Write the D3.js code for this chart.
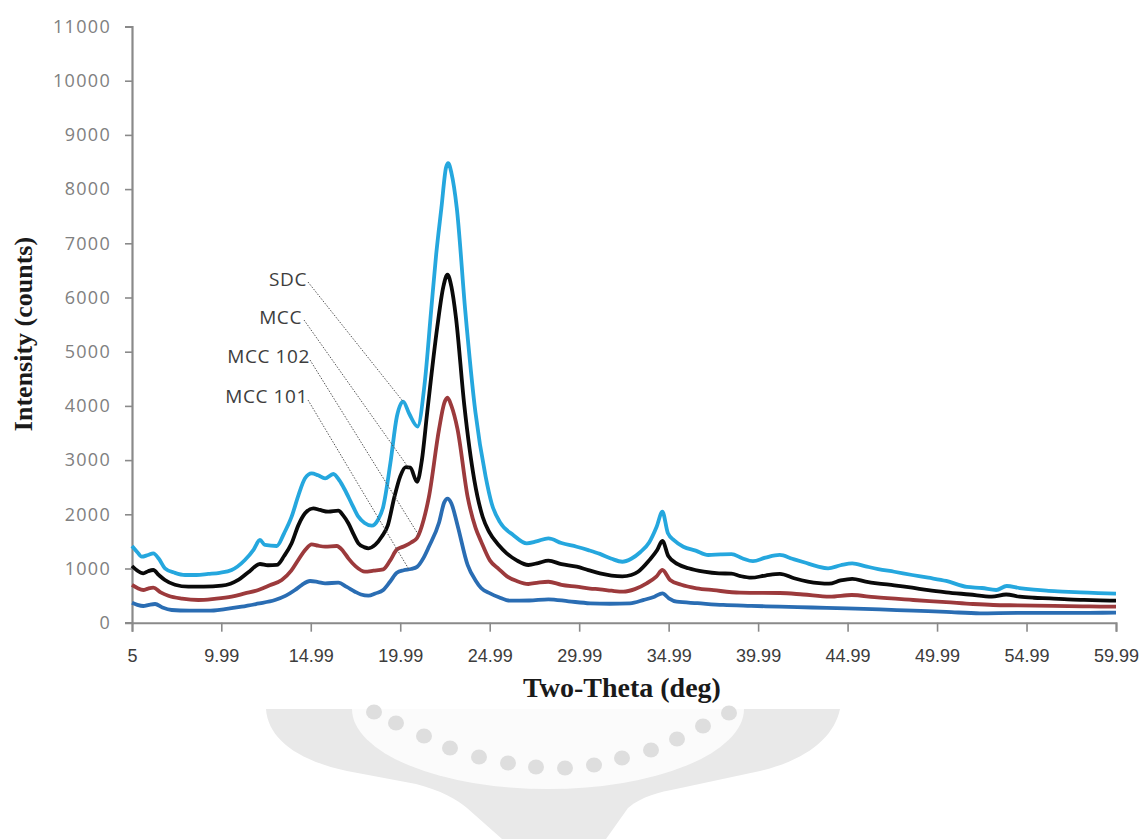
<!DOCTYPE html>
<html>
<head>
<meta charset="utf-8">
<script src="https://cdn.jsdelivr.net/npm/d3@7"></script>
<style>
  html, body { margin: 0; padding: 0; background: #fff; }
  svg { display: block; }
</style>
</head>
<body>
<svg id="chart" width="1143" height="839"></svg>
<script>
// X-ray diffraction patterns, intensity vs two-theta (deg)
const xTicks = [5, 9.99, 14.99, 19.99, 24.99, 29.99, 34.99, 39.99, 44.99, 49.99, 54.99, 59.99];
const yTicks = [0, 1000, 2000, 3000, 4000, 5000, 6000, 7000, 8000, 9000, 10000, 11000];

const seriesNames = ["SDC", "MCC", "MCC 102", "MCC 101"];

// [two-theta, counts]
const sdc = [[5.0,1415],[5.3,1300],[5.54,1218],[5.9,1250],[6.19,1280],[6.5,1180],[6.84,1004],[7.4,920],[7.96,880],[8.6,880],[9.26,899],[9.9,920],[10.57,972],[11.31,1157],[11.8,1350],[12.15,1526],[12.43,1434],[13.09,1415],[13.5,1650],[13.92,1956],[14.3,2350],[14.67,2664],[15.04,2756],[15.4,2720],[15.79,2664],[16.25,2744],[16.6,2620],[16.9,2448],[17.3,2180],[17.65,1956],[18.0,1840],[18.4,1790],[18.75,1900],[19.04,2140],[19.44,2945],[19.8,3800],[20.15,4080],[20.5,3850],[20.96,3620],[21.35,4400],[21.72,5769],[22.0,6800],[22.29,7651],[22.55,8400],[22.67,8480],[22.85,8300],[23.15,7651],[23.62,5769],[24.19,3886],[24.76,2700],[25.1,2200],[25.57,1850],[26.3,1620],[27.06,1465],[27.6,1500],[28.27,1557],[29.0,1470],[29.85,1402],[30.5,1340],[31.15,1270],[31.8,1180],[32.4,1125],[32.9,1180],[33.4,1300],[33.9,1480],[34.32,1771],[34.64,2048],[34.95,1649],[35.3,1520],[35.81,1402],[36.5,1330],[37.2,1249],[37.9,1260],[38.5,1265],[39.1,1190],[39.7,1135],[40.4,1200],[41.2,1250],[41.9,1180],[42.6,1110],[43.3,1040],[43.9,1004],[44.6,1060],[45.25,1096],[46.0,1040],[46.7,990],[47.6,940],[48.6,880],[49.5,830],[50.5,770],[51.65,660],[52.5,640],[53.3,603],[53.88,677],[54.6,640],[55.4,610],[56.1,590],[57.0,575],[58.0,560],[59.0,545],[59.99,535]];

const mcc = [[5.0,1046],[5.3,960],[5.63,911],[5.9,950],[6.19,972],[6.5,880],[6.84,788],[7.4,700],[8.15,664],[9.0,665],[10.01,683],[10.5,720],[10.94,788],[11.5,930],[12.15,1083],[12.6,1060],[13.09,1065],[13.5,1230],[13.92,1465],[14.3,1800],[14.67,2018],[15.13,2111],[15.5,2080],[15.97,2048],[16.53,2066],[16.8,1980],[17.09,1834],[17.4,1620],[17.65,1465],[18.0,1390],[18.21,1373],[18.6,1440],[18.95,1587],[19.3,1800],[19.65,2300],[19.99,2700],[20.3,2870],[20.55,2860],[20.93,2600],[21.2,3000],[21.5,3886],[22.06,5454],[22.4,6200],[22.63,6420],[22.85,6200],[23.1,5642],[23.57,4011],[24.13,2631],[24.6,1950],[24.95,1680],[25.5,1430],[25.94,1280],[26.5,1150],[27.15,1065],[27.7,1100],[28.27,1144],[29.0,1080],[29.85,1033],[30.5,970],[31.15,911],[31.8,870],[32.4,855],[32.9,880],[33.28,941],[33.9,1150],[34.35,1341],[34.64,1510],[34.97,1230],[35.5,1080],[36.1,1004],[36.96,941],[37.8,910],[38.5,905],[39.0,860],[39.6,830],[40.4,870],[41.21,900],[42.0,820],[42.77,760],[43.4,730],[43.95,720],[44.6,780],[45.25,810],[46.0,760],[46.63,727],[47.6,690],[48.6,645],[49.5,600],[50.5,561],[51.8,520],[53.05,480],[53.85,520],[54.6,480],[55.4,460],[56.3,450],[57.3,430],[58.2,420],[59.1,412],[59.99,406]];

const mcc102 = [[5.0,696],[5.3,640],[5.63,603],[5.9,630],[6.19,646],[6.6,560],[7.03,498],[7.8,445],[8.71,419],[9.6,440],[10.57,480],[11.3,540],[12.06,603],[12.7,690],[13.37,788],[13.9,960],[14.29,1157],[14.7,1350],[15.04,1446],[15.4,1420],[15.79,1402],[16.44,1415],[16.8,1320],[17.09,1188],[17.5,1040],[18.02,941],[18.5,960],[19.04,985],[19.43,1150],[19.8,1350],[20.18,1406],[20.6,1480],[20.93,1563],[21.3,1900],[21.59,2317],[22.16,3572],[22.45,4050],[22.63,4150],[22.85,4000],[23.19,3572],[23.76,2317],[24.2,1750],[24.51,1500],[25.0,1150],[25.5,990],[25.94,860],[26.5,770],[27.15,714],[27.7,740],[28.27,756],[29.0,700],[29.85,664],[30.6,630],[31.15,616],[31.8,590],[32.46,572],[33.1,620],[33.76,727],[34.3,850],[34.64,972],[35.07,788],[35.7,700],[36.56,635],[37.5,600],[38.98,554],[40.0,550],[41.21,548],[42.5,520],[44.0,480],[45.22,511],[46.5,470],[48.66,419],[50.5,380],[52.0,345],[53.13,327],[54.5,320],[56.5,310],[58.5,300],[59.99,295]];

const mcc101 = [[5.0,369],[5.3,330],[5.63,308],[5.95,330],[6.29,345],[6.7,280],[7.22,234],[8.2,222],[9.26,221],[10.2,250],[11.13,295],[12.0,350],[12.99,419],[13.6,500],[14.11,603],[14.5,700],[14.95,769],[15.4,750],[15.79,727],[16.53,738],[17.0,660],[17.46,572],[17.8,520],[18.21,498],[18.6,540],[19.04,603],[19.43,760],[19.8,920],[20.18,967],[20.6,990],[20.93,1030],[21.3,1200],[21.59,1400],[22.16,1850],[22.45,2220],[22.63,2290],[22.85,2200],[23.19,1800],[23.76,1061],[24.2,780],[24.51,640],[25.01,542],[25.5,470],[26.12,406],[27.2,410],[28.27,432],[29.4,395],[30.6,358],[31.7,350],[32.83,358],[33.6,420],[34.2,480],[34.64,542],[35.0,450],[35.44,387],[36.6,360],[38.04,327],[39.6,310],[41.21,295],[43.0,280],[44.94,266],[46.8,245],[48.66,221],[50.5,200],[52.39,173],[54.5,180],[56.5,180],[58.5,183],[59.99,185]];

// label anchor points (two-theta, counts) on each pattern for the leader lines
const labelTargets = [[20.15,4080],[20.45,2860],[21.05,1600],[20.5,970]];

const svg = d3.select("#chart");
svg.append("rect").attr("width", 1143).attr("height", 839).attr("fill", "#fff");

// faint emblem in the page background
const mark = svg.append("g");
mark.append("path")
  .attr("d", "M266,709 C268,738 296,760 347,771 L416,784 C440,790 458,800 467,808 L502,839 L606,839 L628,808 C642,796 660,792 676,789 L760,771 C806,760 834,738 840,709 Z")
  .attr("fill", "#e9e9e9");
mark.append("path")
  .attr("d", "M352,709 A196,80 0 0 0 744,709 Z")
  .attr("fill", "#fbfbfb");
const dots = [[374,712],[396,723],[424,736],[450,748],[479,757],[508,763],[536,767],[565,768],[594,765],[622,758],[651,750],[677,739],[703,726],[729,713]];
mark.selectAll("ellipse").data(dots).join("ellipse")
  .attr("cx", d => d[0]).attr("cy", d => d[1]).attr("rx", 8).attr("ry", 7.5)
  .attr("fill", "#dedede");

const x = d3.scaleLinear().domain([5, 59.99]).range([132, 1116]);
const y = d3.scaleLinear().domain([0, 11000]).range([622.7, 26.5]);

// y axis
const yAxis = svg.append("g").attr("transform", "translate(132,0)")
  .call(d3.axisLeft(y).tickValues(yTicks).tickSize(7).tickPadding(14).tickFormat(d3.format("d")));
yAxis.select(".domain").attr("stroke", "#8a8a8a").attr("stroke-width", 2.2);
yAxis.selectAll(".tick line").attr("stroke", "#8a8a8a").attr("stroke-width", 1.6);
yAxis.selectAll(".tick text")
  .attr("font-family", "'Open Sans', sans-serif").attr("font-size", 18)
  .attr("letter-spacing", 1.3).attr("fill", "#808080");

// x axis
const xAxis = svg.append("g").attr("transform", "translate(0,622.7)")
  .call(d3.axisBottom(x).tickValues(xTicks).tickSize(9).tickPadding(18).tickFormat(d => String(d)));
xAxis.select(".domain").attr("stroke", "#8a8a8a").attr("stroke-width", 2);
xAxis.selectAll(".tick line").attr("stroke", "#8a8a8a").attr("stroke-width", 1.6);
xAxis.selectAll(".tick text")
  .attr("font-family", "'Liberation Sans', Arial, sans-serif").attr("font-size", 18)
  .attr("fill", "#3c3c3c");

// patterns
const line = d3.line().x(d => x(d[0])).y(d => y(d[1])).curve(d3.curveMonotoneX);
const patterns = [
  { name: seriesNames[3], data: mcc101, color: "#2a6db3" },
  { name: seriesNames[2], data: mcc102, color: "#9c3a3c" },
  { name: seriesNames[1], data: mcc, color: "#0a0a0a" },
  { name: seriesNames[0], data: sdc, color: "#25a7de" }
];
svg.append("g").selectAll("path").data(patterns).join("path")
  .attr("d", d => line(d.data))
  .attr("fill", "none")
  .attr("stroke", d => d.color)
  .attr("stroke-width", 3.8)
  .attr("stroke-linejoin", "round");

// series labels with dotted leaders
const labelPos = [[307, 286, 308, 282], [302, 324, 304, 320], [310, 363, 310, 360], [308, 403, 308, 400]];
const labels = svg.append("g");
seriesNames.forEach((name, i) => {
  const [tx, ty, lx, ly] = labelPos[i];
  const [tt, tv] = labelTargets[i];
  labels.append("line")
    .attr("x1", lx).attr("y1", ly).attr("x2", x(tt)).attr("y2", y(tv))
    .attr("stroke", "#555").attr("stroke-width", 1).attr("stroke-dasharray", "1.5,1.5");
  labels.append("text")
    .attr("x", tx).attr("y", ty).attr("text-anchor", "end")
    .attr("font-family", "'Open Sans', sans-serif").attr("font-size", 19)
    .attr("letter-spacing", 0.6).attr("fill", "#3d3d3d")
    .text(name);
});

// axis titles
svg.append("text")
  .attr("transform", "translate(32,334) rotate(-90)")
  .attr("text-anchor", "middle")
  .attr("font-family", "'Liberation Serif', 'Times New Roman', serif")
  .attr("font-weight", "bold").attr("font-size", 26).attr("fill", "#1a1a1a")
  .text("Intensity (counts)");
svg.append("text")
  .attr("x", 622).attr("y", 697)
  .attr("text-anchor", "middle")
  .attr("font-family", "'Liberation Serif', 'Times New Roman', serif")
  .attr("font-weight", "bold").attr("font-size", 28).attr("fill", "#1a1a1a")
  .text("Two-Theta (deg)");
</script>
</body>
</html>
